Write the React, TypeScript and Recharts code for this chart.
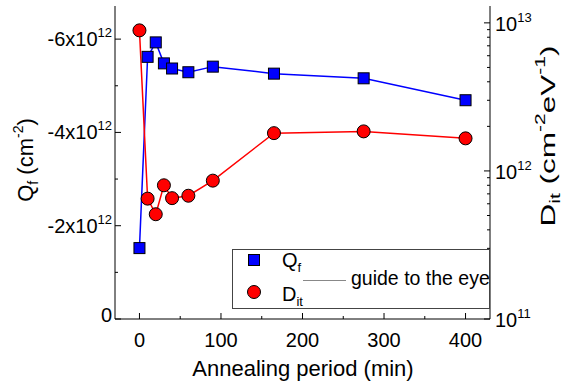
import { LineChart, Line, XAxis, YAxis, Legend } from "recharts"

const FONT = '"Liberation Sans", Arial, sans-serif'

// annealing period (min)
const periods = [0, 10, 20, 30, 40, 60, 90, 165, 275, 400]
// |Qf| in units of 1e12 cm^-2 (axis labels show them negative)
const qfValues = [1.52, 5.62, 5.93, 5.48, 5.37, 5.29, 5.41, 5.26, 5.16, 4.69]
// Dit in cm^-2 eV^-1
const ditValues = [8.9e12, 6.5e11, 5.1e11, 8.0e11, 6.55e11, 6.8e11, 8.6e11, 1.8e12, 1.85e12, 1.66e12]

const xTicks = [0, 50, 100, 150, 200, 250, 300, 350, 400]
const qfTicks = [0, 1, 2, 3, 4, 5, 6]
const ditTicks = [
  1e11, 2e11, 3e11, 4e11, 5e11, 6e11, 7e11, 8e11, 9e11,
  1e12, 2e12, 3e12, 4e12, 5e12, 6e12, 7e12, 8e12, 9e12,
  1e13,
]

const data = periods.map((p, i) => ({ period: p, qf: qfValues[i], dit: ditValues[i] }))

function BottomTick(props: any) {
  const { x, y, payload } = props
  const v = payload.value
  const major = v % 100 === 0
  return (
    <g>
      <line x1={x} x2={x} y1={y} y2={y - (major ? 6 : 3)} stroke="#000" />
      {major && (
        <text x={x} y={y + 28} textAnchor="middle" fontSize={20} fontFamily={FONT} fill="#000">
          {v}
        </text>
      )}
    </g>
  )
}

function TopTick(props: any) {
  const { x, y, payload } = props
  const major = payload.value % 100 === 0
  return <line x1={x} x2={x} y1={y} y2={y + (major ? 6 : 3)} stroke="#000" />
}

function LeftTick(props: any) {
  const { x, y, payload } = props
  const v = payload.value
  const major = v % 2 === 0
  return (
    <g>
      <line x1={x} x2={x + (major ? 6 : 3)} y1={y} y2={y} stroke="#000" />
      {major && v === 0 && (
        <text x={x - 3} y={y + 3} textAnchor="end" fontSize={20} fontFamily={FONT} fill="#000">
          0
        </text>
      )}
      {major && v !== 0 && (
        <text x={x - 3} y={y + 7} textAnchor="end" fontSize={20} fontFamily={FONT} fill="#000">
          -{v}x10<tspan dy={-9} fontSize={13}>12</tspan>
        </text>
      )}
    </g>
  )
}

function RightTick(props: any) {
  const { x, y, payload } = props
  const v = payload.value
  const exp = Math.round(Math.log10(v))
  const major = Math.abs(v - Math.pow(10, exp)) < v * 1e-6
  return (
    <g>
      <line x1={x - (major ? 6 : 3)} x2={x} y1={y} y2={y} stroke="#000" />
      {major && (
        <text x={x + 5} y={y + 8} fontSize={20} fontFamily={FONT} fill="#000">
          10<tspan dy={-9} fontSize={13}>{exp}</tspan>
        </text>
      )}
    </g>
  )
}

function XTitle() {
  return (
    <text x={303} y={376} textAnchor="middle" fontSize={22} fontFamily={FONT} fill="#000">
      Annealing period (min)
    </text>
  )
}

function LeftTitle() {
  return (
    <text x={0} y={0} transform="translate(33 160) rotate(-90)" textAnchor="middle" fontSize={22} fontFamily={FONT} fill="#000">
      Q<tspan dy={5} fontSize={14}>f</tspan>
      <tspan dy={-5}> (cm</tspan>
      <tspan dy={-10} fontSize={14}>-2</tspan>
      <tspan dy={10}>)</tspan>
    </text>
  )
}

function RightTitle() {
  return (
    <text x={0} y={0} transform="translate(555 136) rotate(-90) scale(1.5 1)" textAnchor="middle" fontSize={21} fontFamily={FONT} fill="#000">
      D<tspan dy={5} fontSize={14}>it</tspan>
      <tspan dy={-5}> (cm</tspan>
      <tspan dy={-10} fontSize={14}>-2</tspan>
      <tspan dy={10}>eV</tspan>
      <tspan dy={-10} fontSize={14}>-1</tspan>
      <tspan dy={10}>)</tspan>
    </text>
  )
}

function SquareDot(props: any) {
  const { cx, cy } = props
  return <rect x={cx - 5.5} y={cy - 5.5} width={11} height={11} fill="#0000ff" stroke="#000" strokeWidth={1} />
}

function CircleDot(props: any) {
  const { cx, cy } = props
  return <circle cx={cx} cy={cy} r={6.5} fill="#ff0000" stroke="#000" strokeWidth={1} />
}

function LegendBox() {
  return (
    <svg width={258} height={60} style={{ display: "block", overflow: "visible" }}>
      <rect x={0.5} y={0.5} width={257} height={59} fill="#fff" stroke="#444" />
      <rect x={16.5} y={5.5} width={11} height={11} fill="#0000ff" stroke="#000" />
      <text x={50} y={18} fontSize={20} fontFamily={FONT} fill="#000">
        Q<tspan dy={5} fontSize={13}>f</tspan>
      </text>
      <line x1={71} x2={114} y1={31.5} y2={31.5} stroke="#888" />
      <text x={119} y={36} fontSize={19.5} fontFamily={FONT} fill="#000">
        guide to the eye
      </text>
      <circle cx={22} cy={43} r={6.5} fill="#ff0000" stroke="#000" />
      <text x={50} y={52} fontSize={20} fontFamily={FONT} fill="#000">
        D<tspan dy={5} fontSize={13}>it</tspan>
      </text>
    </svg>
  )
}

export default function App() {
  return (
    <div style={{ position: "absolute", left: 0, top: 0, width: 562, height: 382, background: "#fff" }}>
      <LineChart width={562} height={382} data={data} margin={{ top: 6, right: 0, bottom: 0, left: 0 }}>
        <XAxis
          xAxisId="b"
          dataKey="period"
          type="number"
          domain={[-30, 430]}
          ticks={xTicks}
          interval={0}
          height={63}
          tickSize={0}
          tickMargin={0}
          tickLine={false}
          tick={<BottomTick />}
          axisLine={{ stroke: "#000" }}
          allowDataOverflow
          label={{ content: XTitle }}
        />
        <XAxis
          xAxisId="t"
          orientation="top"
          dataKey="period"
          type="number"
          domain={[-30, 430]}
          ticks={xTicks}
          interval={0}
          height={0}
          tickSize={0}
          tickMargin={0}
          tickLine={false}
          tick={<TopTick />}
          axisLine={{ stroke: "#000" }}
          allowDataOverflow
        />
        <YAxis
          yAxisId="l"
          type="number"
          domain={[0, 6.71]}
          ticks={qfTicks}
          interval={0}
          width={115}
          tickSize={0}
          tickMargin={0}
          tickLine={false}
          tick={<LeftTick />}
          axisLine={{ stroke: "#000" }}
          allowDataOverflow
          label={{ content: LeftTitle }}
        />
        <YAxis
          yAxisId="r"
          orientation="right"
          type="number"
          scale="log"
          domain={[1e11, 1.3e13]}
          ticks={ditTicks}
          interval={0}
          width={72}
          tickSize={0}
          tickMargin={0}
          tickLine={false}
          tick={<RightTick />}
          axisLine={{ stroke: "#000" }}
          allowDataOverflow
          label={{ content: RightTitle }}
        />
        <Legend
          layout="vertical"
          align="center"
          verticalAlign="middle"
          wrapperStyle={{ position: "absolute", left: 232, top: 249, width: 258, height: 60 }}
          content={LegendBox}
        />
        <Line
          xAxisId="b"
          yAxisId="l"
          dataKey="qf"
          stroke="#0000ff"
          strokeWidth={1.5}
          dot={<SquareDot />}
          isAnimationActive={false}
        />
        <Line
          xAxisId="b"
          yAxisId="r"
          dataKey="dit"
          stroke="#ff0000"
          strokeWidth={1.5}
          dot={<CircleDot />}
          isAnimationActive={false}
        />
      </LineChart>
    </div>
  )
}
